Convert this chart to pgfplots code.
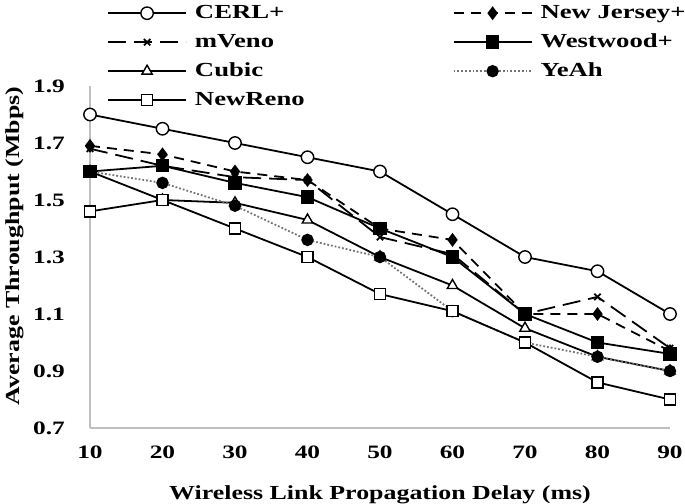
\documentclass[border=0pt]{standalone}
\usepackage{fontspec}
\setmainfont{Liberation Serif}[FakeStretch=1.34]
\newfontfamily\labelfont{Liberation Serif}[FakeStretch=1.30]
\usepackage{pgfplots}
\pgfplotsset{compat=1.18}
\begin{document}
\begin{tikzpicture}
\begin{axis}[
  scale only axis,
  width=580bp, height=342bp,
  xmin=10, xmax=90, ymin=0.7, ymax=1.9,
  xtick={10,20,...,90},
  ytick={0.7,0.9,1.1,1.3,1.5,1.7,1.9},
  axis x line=bottom, axis y line=left,
  axis line style={draw=black!25, line width=1.6pt, -},
  major tick length=0pt,
  /pgf/number format/assume math mode=true,
  yticklabel style={/pgf/number format/fixed,/pgf/number format/fixed zerofill,/pgf/number format/precision=1, anchor=east, inner sep=0pt, xshift=-25bp},
  xticklabel style={anchor=north, inner sep=0pt, yshift=-18bp},
  tick label style={font=\bfseries\fontsize{19}{19}\selectfont},
  label style={font=\labelfont\bfseries\fontsize{20}{20}\selectfont},
  xlabel={Wireless Link Propagation Delay (ms)},
  ylabel={Average Throughput (Mbps)},
  xlabel style={at={(axis description cs:0.5,-0.2076)}, anchor=base, inner sep=0pt},
  ylabel style={at={(axis description cs:-0.1207,0.532)}, rotate=0, anchor=base, inner sep=0pt},
  clip=false,
  legend columns=2,
  legend style={draw=none, fill=none, at={(axis description cs:0.0293,1.2398)}, anchor=north west,
    inner sep=0pt,
    nodes={inner sep=0pt, text height=14bp, text depth=4bp},
    font=\bfseries\fontsize{20}{20}\selectfont,
    row sep=11bp,
    /tikz/every odd column/.append style={column sep=8bp},
    /tikz/every even column/.append style={column sep=148bp}},
  legend cell align=left,
  legend image code/.code={\draw[mark repeat=2,mark phase=2,#1] plot coordinates {(0bp,0bp) (39bp,0bp) (78bp,0bp)};},
]
\coordinate (bl) at (rel axis cs:0,0);
% CERL+
\addplot[black, line width=1.8pt, mark=*, mark options={fill=white, solid, line width=1.4pt}, mark size=6.2bp]
  coordinates {(10,1.80) (20,1.75) (30,1.70) (40,1.65) (50,1.60) (60,1.45) (70,1.30) (80,1.25) (90,1.10)};
\addlegendentry{CERL+}
% New Jersey+
\addplot[black, line width=1.8pt, dash pattern=on 10bp off 7bp, mark=diamond*, mark options={solid}, mark size=5.5bp]
  coordinates {(10,1.69) (20,1.66) (30,1.60) (40,1.57) (50,1.40) (60,1.36) (70,1.10) (80,1.10) (90,0.97)};
\addlegendentry{New Jersey+}
% mVeno
\addplot[black, line width=1.8pt, dash pattern=on 18bp off 8bp, mark=x, mark options={solid, line width=1.8pt}, mark size=4.5bp]
  coordinates {(10,1.68) (20,1.62) (30,1.58) (40,1.57) (50,1.37) (60,1.31) (70,1.10) (80,1.16) (90,0.98)};
\addlegendentry{mVeno}
% Westwood+
\addplot[black, line width=1.8pt, mark=square*, mark options={solid}, mark size=5.8bp]
  coordinates {(10,1.60) (20,1.62) (30,1.56) (40,1.51) (50,1.40) (60,1.30) (70,1.10) (80,1.00) (90,0.96)};
\addlegendentry{Westwood+}
% Cubic
\addplot[black, line width=1.8pt, mark=triangle*, mark options={fill=white, solid, line width=1.4pt}, mark size=6bp]
  coordinates {(10,1.60) (20,1.50) (30,1.49) (40,1.43) (50,1.30) (60,1.20) (70,1.05) (80,0.95) (90,0.90)};
\addlegendentry{Cubic}
% YeAh
\addplot[black!55, line width=1.8pt, dotted, mark=*, mark options={solid, fill=black, draw=black}, mark size=5.3bp]
  coordinates {(10,1.60) (20,1.56) (30,1.48) (40,1.36) (50,1.30) (60,1.11) (70,1.00) (80,0.95) (90,0.90)};
\addlegendentry{YeAh}
% NewReno
\addplot[black, line width=1.8pt, mark=square*, mark options={fill=white, solid, line width=1.4pt}, mark size=5.5bp]
  coordinates {(10,1.46) (20,1.50) (30,1.40) (40,1.30) (50,1.17) (60,1.11) (70,1.00) (80,0.86) (90,0.80)};
\addlegendentry{NewReno}
\end{axis}
\pgfresetboundingbox
\path (bl) ++(-90bp,-76bp) rectangle ++(685bp,504bp);
\end{tikzpicture}
\end{document}
